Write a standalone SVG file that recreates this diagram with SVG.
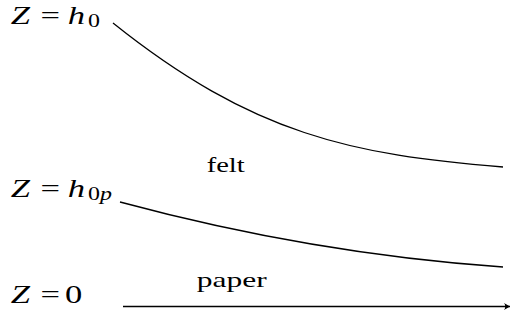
<svg xmlns="http://www.w3.org/2000/svg" width="511" height="323" viewBox="0 0 511 323">
<style>
.m{font-size:26px}
.i{font-style:italic}
.s{font-size:18px}
.t{font-size:20.5px}
.c{fill:none;stroke:#000;stroke-width:1.3}
</style>
<defs>
<marker id="ah" markerWidth="8" markerHeight="8" refX="6" refY="4" orient="auto" markerUnits="userSpaceOnUse">
<path d="M0,0.5 Q2,3 0.5,4 Q2,5 0,7.5 L6,4 Z" fill="#000"/>
</marker>
</defs>
<rect width="511" height="323" fill="#fff"/>
<g id="connectors">
<path class="c" d="M113,23 C253,135 353,155 503,167"/>
<path class="c" d="M120,202 C250,237 373,258 503,267"/>
<path class="c" d="M123,306.5 L510,306.5" marker-end="url(#ah)"/>
</g>
<g font-family="'Liberation Serif', 'Times New Roman', serif" fill="#000">
<g id="label-h0" transform="scale(1.33,1)">
<text class="m i" x="8" y="23.7">Z</text>
<text class="m" x="30.4" y="23.7">=</text>
<text class="m i" x="51" y="23.7">h</text>
<text class="s" x="66.2" y="27.3">0</text>
</g>
<g id="label-h0p" transform="scale(1.33,1)">
<text class="m i" x="8" y="196.7">Z</text>
<text class="m" x="30.4" y="196.7">=</text>
<text class="m i" x="51" y="196.7">h</text>
<text class="s" x="66.2" y="200.3">0<tspan class="i">p</tspan></text>
</g>
<g id="label-0" transform="scale(1.33,1)">
<text class="m i" x="8" y="303.3">Z</text>
<text class="m" x="30.4" y="303.3">=</text>
<text class="m" x="48.9" y="303.3">0</text>
</g>
<g id="felt" transform="scale(1.33,1)">
<text class="t" x="155.4" y="172" textLength="28.6" lengthAdjust="spacingAndGlyphs">felt</text>
</g>
<g id="paper" transform="scale(1.33,1)">
<text class="t" x="147.9" y="286.7" textLength="52.6" lengthAdjust="spacingAndGlyphs">paper</text>
</g>
</g>
</svg>
